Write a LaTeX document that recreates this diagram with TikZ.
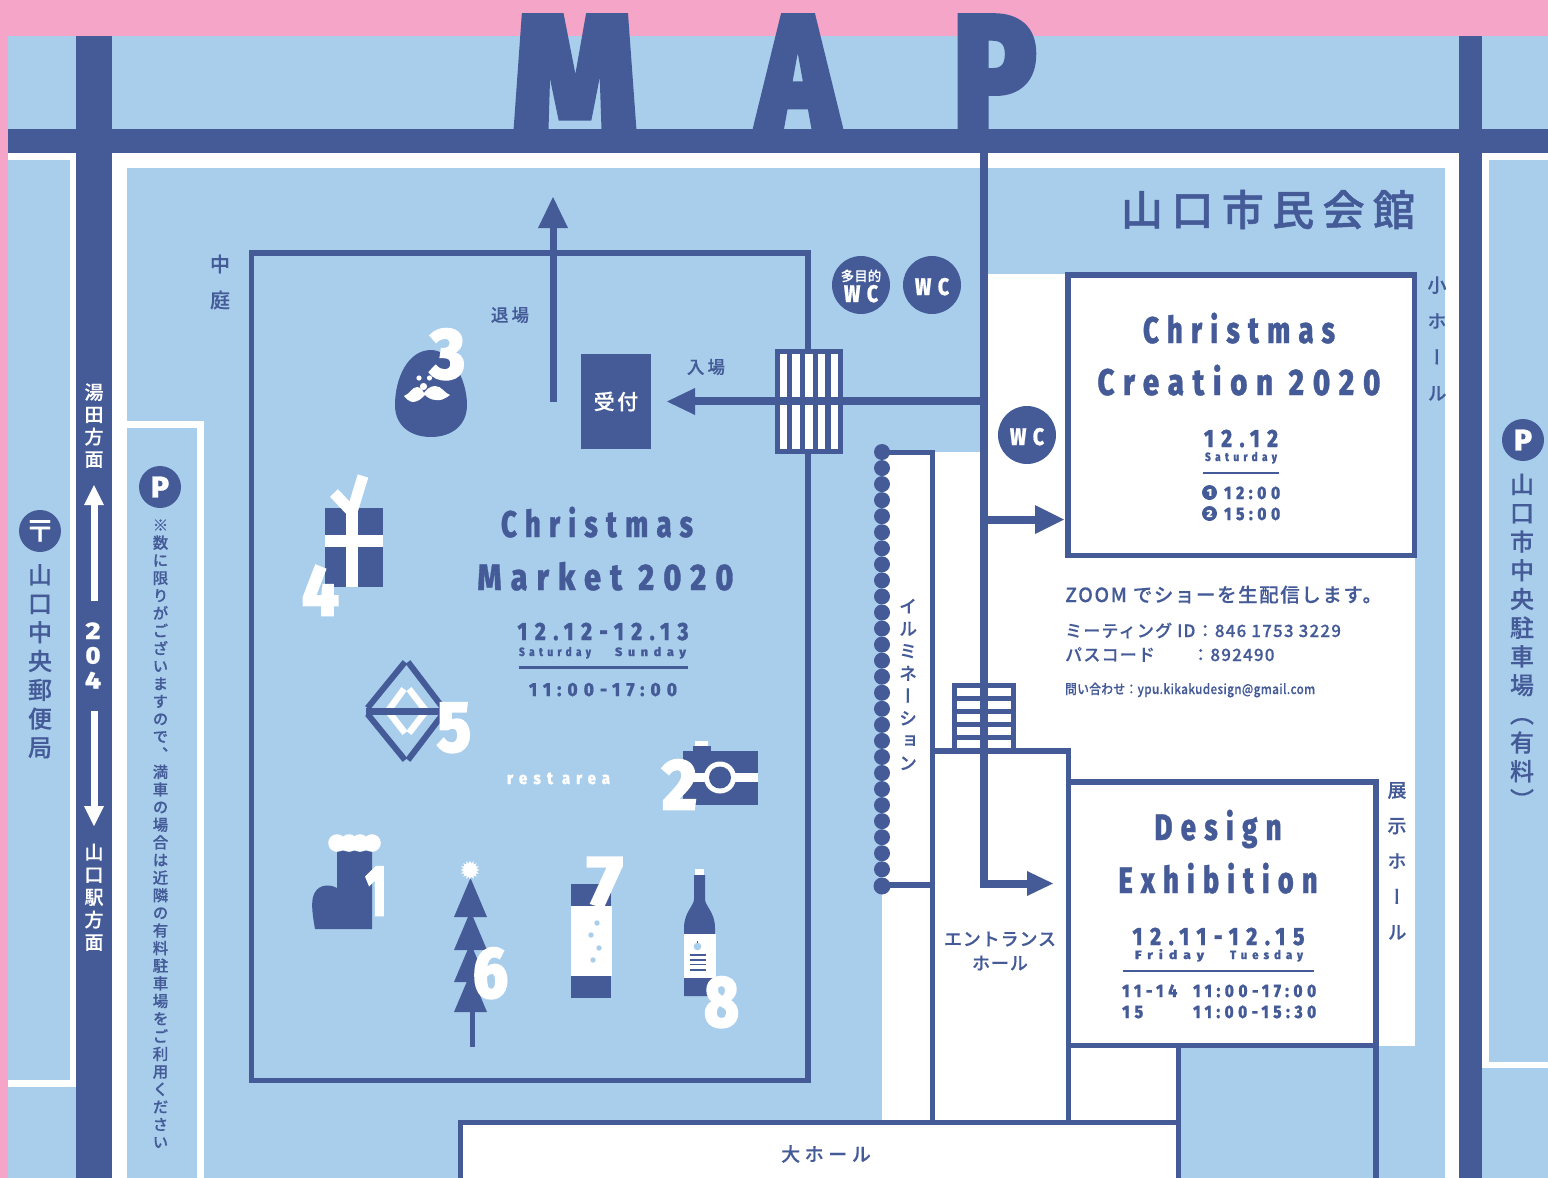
\documentclass[tikz,border=0pt]{standalone}
\usepackage{fontspec}
\usepackage{graphicx}
\usetikzlibrary{shapes.geometric}
\newfontfamily\hv{Fira Sans ExtraBold}
\newfontfamily\jp[FakeBold=0.3]{Noto Sans CJK JP Medium}
\newfontfamily\jpv[RawFeature=+vert,FakeBold=0.3]{Noto Sans CJK JP Medium}
\definecolor{dk}{HTML}{445B97}
\definecolor{lb}{HTML}{A9CEEC}
\definecolor{pk}{HTML}{F4A5C8}
\makeatletter
\newcommand\vtxt[3]{\vbox{\jpv\fontsize{#1}{#1}\selectfont\baselineskip=#2pt\lineskiplimit=-100pt\lineskip=0pt\@tfor\vtc:=#3\do{\hbox to 1em{\hss\vtc\hss\vrule height .88em depth .12em width 0pt}}}}
\makeatother
\newcommand\fw[4]{\resizebox{#1pt}{\height}{\hv\fontsize{#2}{#2}\selectfont\addfontfeature{LetterSpace=#3,FakeBold=1}#4}}
\newcommand\jt[3]{{\jp\fontsize{#1}{#1}\selectfont\addfontfeature{LetterSpace=#2}#3}}
\newcommand\nm[2]{\resizebox{#1pt}{\height}{\hv\fontsize{72}{72}\selectfont\addfontfeature{FakeBold=2.5}#2}}
\tikzset{
 t/.style={inner sep=0pt,anchor=base,text=dk},
 tl/.style={inner sep=0pt,anchor=base west,text=dk},
 c/.style={inner sep=0pt,anchor=center,text=dk},
 w/.style={text=white},
 dot/.style={circle,fill=dk,inner sep=0pt,text=white,minimum size=#1},
 ln/.style={draw=dk,line width=5.5pt},
}
\newcommand\rc[5]{\fill[#1] (#2,#3) rectangle (#4,#5);}
\begin{document}
\begin{tikzpicture}[x=1pt,y=-1pt]
\useasboundingbox (0,0) rectangle (1548,1178);
% grounds
\rc{lb}{0}{0}{1548}{1178}
\rc{pk}{0}{0}{1548}{36}
\rc{pk}{0}{0}{8}{1178}
% white outlines
\draw[white,line width=6.5pt] (8,156.5) -- (73,156.5) -- (73,1083.5) -- (8,1083.5);
\draw[white,line width=6.5pt] (1548,156.5) -- (1485.5,156.5) -- (1485.5,1065) -- (1548,1065);
\rc{white}{112}{153}{1459}{1178}
\rc{lb}{127}{168}{1445}{1178}
\rc{white}{127}{421}{204}{1178}
\rc{lb}{127}{428}{197}{1178}
% white rooms
\rc{white}{988}{274}{1415}{1046}
\rc{white}{882}{452}{988}{1120}
\rc{white}{1066}{1046}{1178}{1120}
% title
\node[t,text=dk] (map) at (774.5,129) {\hv\fontsize{162}{162}\selectfont\addfontfeature{FakeBold=4}\resizebox{124pt}{\height}{M}\kern121pt\resizebox{80pt}{\height}{A}\kern115pt\resizebox{83pt}{\height}{P}};
% roads
\rc{dk}{76}{36}{112}{1178}
\rc{dk}{1459}{36}{1482}{1178}
\rc{dk}{8}{129}{1548}{153}
% building lines
\draw[ln] (882,452.5) -- (932.5,452.5) -- (932.5,1122);
\draw[ln] (882,885) -- (932.5,885);
\draw[ln,fill=white] (932.5,751) -- (1068.5,751) -- (1068.5,1122.5) -- (932.5,1122.5) -- cycle;
\draw[ln,fill=white] (1068,275) rectangle (1414.5,555.5);
\draw[ln,fill=white] (1068.5,782) rectangle (1376,1045.5);
\draw[ln] (1068.5,1045.5) -- (1068.5,1122.5);
\draw[ln] (1178.5,1045.5) -- (1178.5,1178);
\draw[ln] (1376,1045.5) -- (1376,1178);
\fill[white] (460.5,1178) -- (460.5,1122.5) -- (1178.5,1122.5) -- (1178.5,1178) -- cycle;
\draw[ln] (460.5,1178) -- (460.5,1122.5) -- (1178.5,1122.5) -- (1178.5,1178);
% market frame
\draw[ln] (251.5,253) rectangle (808,1080.5);
% grids
\rc{dk}{775}{349}{843}{454}
\foreach \i in {0,...,4} {
 \fill[white] ({779.6+12.75*\i},354) rectangle ({787+12.75*\i},449);
}
\rc{dk}{952}{683}{1016}{750}
\foreach \i in {0,...,4} {
 \fill[white] (957,{688+13*\i}) rectangle (1011,{695.8+13*\i});
}
% main corridor
\draw[dk,line width=8pt] (984,153) -- (984,884) -- (1030,884);
\fill[dk] (1027,871) -- (1053,883.5) -- (1027,896) -- cycle;
\draw[dk,line width=8pt] (984,401) -- (692,401);
\fill[dk] (695,388) -- (667,401.5) -- (695,415) -- cycle;
\draw[dk,line width=8pt] (984,520) -- (1038,520);
\fill[dk] (1035,505) -- (1064,519.5) -- (1035,534) -- cycle;
\draw[dk,line width=7pt] (553,402) -- (553,226);
\fill[dk] (538,228) -- (553,197) -- (568,228) -- cycle;
% dots
\foreach \i in {0,...,26} { \fill[dk] (882,{452+16.05*\i}) circle (8); }
\fill[dk] (882,886) circle (8.5);
% road arrows
\draw[white,line width=7pt] (94,601) -- (94,503);
\fill[white] (84,505) -- (94,485) -- (104,505) -- cycle;
\draw[white,line width=7pt] (94,711) -- (94,808);
\fill[white] (84,806) -- (94,826) -- (104,806) -- cycle;
% road labels
\node[c,w] (yuda) at (94,425.5) {\vtxt{19}{22.3}{湯田方面}};
\node[t,w] (r2) at (93,639) {\fw{15}{24}{0}{2}};
\node[t,w] (r0) at (93,663.5) {\fw{15}{24}{0}{0}};
\node[t,w] (r4) at (93,688.5) {\fw{16}{24}{0}{4}};
\node[c,w] (yama) at (94,897) {\vtxt{19}{22.5}{山口駅方面}};
\node[c] (post) at (40,661) {\vtxt{24}{28.8}{山口中央郵便局}};
\node[dot=42pt] (postc) at (40,531) {\jt{30}{0}{〒}};
\node[dot=42pt] (p1) at (160,487) {\fontsize{30}{30}\selectfont\hv\addfontfeature{FakeBold=1}P};
\node[dot=42pt] (p2) at (1523,440) {\fontsize{30}{30}\selectfont\hv\addfontfeature{FakeBold=1}P};
\node[c] (note) at (160.5,833.5) {\vtxt{15.5}{17.63}{※数に限りがございますので、満車の場合は近隣の有料駐車場をご利用ください}};
\node[c] (park) at (1522,642) {\vtxt{24}{28.7}{山口市中央駐車場（有料）}};
% room labels
\node[c] (naka) at (220,282) {\vtxt{20}{36}{中庭}};
\node[c] (exit) at (510,315) {\jt{17.5}{18}{退場}};
\node[c] (ent) at (706,367) {\jt{17.5}{18}{入場}};
\node[fill=dk,minimum width=70pt,minimum height=95pt,inner sep=0pt,text=white] (uke) at (616,401.5) {\raisebox{1.5pt}{\jt{21}{12}{受付}}};
\node[c] (kaikan) at (1268,209.5) {{\jp\fontsize{42}{42}\selectfont\addfontfeature{LetterSpace=20,FakeBold=1.2}山口市民会館}};
\node[c] (shoh) at (1437,339) {\vtxt{19}{36}{小ホール}};
\node[c] (tenji) at (1397,861) {\vtxt{19}{35.5}{展示ホール}};
\node[c] (illum) at (908,684.5) {\vtxt{18}{22.4}{イルミネーション}};
\node[c] (enth1) at (1000,939) {\jt{18}{5}{エントランス}};
\node[c] (enth2) at (1000,963) {\jt{18}{5}{ホール}};
\node[c] (dai) at (826,1154) {\jt{19}{24}{大ホール}};
% WC
\node[dot=58pt] (wc1) at (861,285) {};
\node[t,w] (wc1a) at (861,281) {\jt{13.5}{0}{多目的}};
\node[t,w] (wc1b) at (861,302) {\fw{34}{24}{35}{WC}};
\node[dot=58pt] (wc2) at (932,285) {};
\node[t,w] (wc2a) at (932,295) {\fw{34}{24}{35}{WC}};
\node[dot=58pt] (wc3) at (1027,435) {};
\node[t,w] (wc3a) at (1027,445) {\fw{34}{24}{35}{WC}};
% Market text
\node[t] (m1) at (597,537) {\fw{192}{37}{30}{Christmas}};
\node[t] (m2) at (605.5,590) {\fw{256}{37}{30}{Market 2020}};
\node[t] (m3) at (603,640) {\fw{171}{25}{36}{12.12-12.13}};
\node[t] (m4) at (602.5,656) {\fw{72}{12}{45}{Saturday}\kern24pt\fw{71}{12}{45}{Sunday}};
\draw[dk,line width=2.5pt] (519,667.5) -- (688,667.5);
\node[t] (m5) at (603,696) {\fw{148}{19}{36}{11:00-17:00}};
\node[t,w] (rest) at (558.5,784) {\fw{46}{17}{40}{rest}\kern9pt\fw{48}{17}{40}{area}};
% Small hall text
\node[t] (s1) at (1239,343) {\fw{192}{37}{30}{Christmas}};
\node[t] (s2) at (1239,395) {\fw{283}{37}{30}{Creation 2020}};
\node[t] (s3) at (1241,447) {\fw{74}{25}{36}{12.12}};
\node[t] (s4) at (1241,461) {\fw{72}{12}{45}{Saturday}};
\draw[dk,line width=2.5pt] (1203,473) -- (1279,473);
\node[dot=15pt] (c1) at (1209.5,492.5) {\fw{5}{10}{0}{1}};
\node[dot=15pt] (c2) at (1209.5,513.5) {\fw{6}{10}{0}{2}};
\node[tl] (s5) at (1224,499) {\fw{56}{18}{30}{12:00}};
\node[tl] (s6) at (1224,520) {\fw{56}{18}{30}{15:00}};
% Zoom text
\node[tl] (z1) at (1065,602) {\jt{19.5}{8}{ZOOM でショーを生配信します。}};
\node[tl] (z2) at (1065,637) {\jt{17}{7}{ミーティング ID：846 1753 3229}};
\node[tl] (z3) at (1065,661) {\jt{17}{7}{パスコード}};
\node[tl] (z3b) at (1192,661) {\jt{17}{7}{：892490}};
\node[tl] (z4) at (1065,694) {\resizebox{250pt}{\height}{\jt{13.5}{3}{問い合わせ：ypu.kikakudesign@gmail.com}}};
% Design text
\node[t] (d1) at (1218,840) {\fw{127}{37}{30}{Design}};
\node[t] (d2) at (1218,893) {\fw{199}{37}{30}{Exhibition}};
\node[t] (d3) at (1218.5,945) {\fw{172}{25}{36}{12.11-12.15}};
\node[t] (d4) at (1219,959) {\fw{69}{12}{45}{Friday}\kern26pt\fw{73}{12}{45}{Tuesday}};
\draw[dk,line width=2.5pt] (1123,971) -- (1314,971);
\node[tl] (d5) at (1122,997) {\fw{55}{18}{30}{11-14}};
\node[tl] (d6) at (1193,997) {\fw{123}{18}{30}{11:00-17:00}};
\node[tl] (d7) at (1122,1018) {\fw{21}{18}{30}{15}};
\node[tl] (d8) at (1193,1018) {\fw{123}{18}{30}{11:00-15:30}};
% santa
\fill[dk] (431,350) .. controls (408,350) and (395,378) .. (395,405) .. controls (395,427) and (412,437) .. (431,437) .. controls (452,437) and (467,425) .. (467,405) .. controls (467,378) and (450,350) .. (431,350) -- cycle;
\fill[white] (419,378) circle (2.6) (429.5,378) circle (2.6) (423.5,386.5) circle (3.6);
\fill[white] (404,396) .. controls (410,394) and (412,387) .. (417,387) .. controls (421,387) and (423,391) .. (424,393) .. controls (426,390) and (430,386) .. (435,386) .. controls (442,386) and (444,393) .. (450,395) .. controls (445,399) and (440,401) .. (436,400) .. controls (431,400) and (427,397) .. (425,395) .. controls (422,398) and (418,402) .. (413,402) .. controls (409,402) and (406,398) .. (404,396) -- cycle;
% gift
\rc{dk}{325}{508}{382.5}{587}
\rc{white}{346}{508}{358}{587}
\rc{white}{325}{535}{382.5}{547}
\draw[white,line width=11pt] (334,493) -- (351,511);
\draw[white,line width=11pt] (363,476) -- (352,512);
% diamond
\draw[white,line width=6.5pt] (404,689) -- (388,711) -- (405,733);
\draw[white,line width=6.5pt] (409,689) -- (426,711) -- (409,733);
\draw[dk,line width=6pt] (367.5,708) -- (405,662);
\draw[dk,line width=6pt] (408,662) -- (443,708);
\draw[dk,line width=6pt] (367.5,714) -- (405,760);
\draw[dk,line width=6pt] (408,760) -- (443,714);
\draw[dk,line width=7pt] (366,711) -- (444,711);
% boot
\fill[dk] (337,851) -- (372,851) -- (372,929) -- (315,929) .. controls (313,918) and (311,905) .. (313,897) .. controls (316,885) and (328,883) .. (337,888) -- cycle;
\foreach \x in {337,349,360,372} { \fill[white] (\x,843) circle (8.8); }
% tree
\draw[dk,line width=5pt] (472,1010) -- (472,1047);
\fill[dk] (454,917) -- (470.5,878) -- (487,917) -- cycle;
\fill[dk] (454,950) -- (470.5,911) -- (487,950) -- cycle;
\fill[dk] (454,982) -- (470.5,943) -- (487,982) -- cycle;
\fill[dk] (454,1012) -- (470.5,973) -- (487,1012) -- cycle;
\node[star,star points=16,star point ratio=1.45,fill=white,inner sep=0pt,minimum size=19pt] (burst) at (470,870) {};
% camera
\rc{white}{695}{741}{708}{746}
\rc{dk}{693}{746}{711}{751}
\rc{dk}{683}{751}{757.5}{805}
\rc{white}{690}{773}{757.5}{782}
\fill[white] (720,777.5) circle (16);
\fill[dk] (720,777.5) circle (11);
% glass
\rc{dk}{571}{884}{611}{998}
\rc{white}{571}{906}{611.5}{976}
% bottle
\fill[dk] (694,875) -- (705,875) -- (705,899) .. controls (705,906) and (715,912) .. (715,928) -- (715,996) -- (684,996) -- (684,928) .. controls (684,912) and (694,906) .. (694,899) -- cycle;
\rc{white}{695}{869}{704}{875}
\rc{white}{683.5}{934}{716}{978}
\fill[lb] (697.5,946.5) circle (3.8);
\draw[dk,line width=1pt] (697.5,941) -- (697.5,943);
\foreach \y in {955,960,964.7,970} { \draw[dk,line width=1.5pt] (690,\y) -- (706,\y); }
% numbers
\node[t,w] (n3) at (447.5,378.5) {\nm{35}{3}};
\node[t,w] (n4) at (320.5,615.5) {\nm{37}{4}};
\node[t,w] (n5) at (454,751.5) {\nm{34}{5}};
\node[t,w] (n1) at (376,915.5) {\nm{21}{1}};
\node[t,w] (n6) at (490.5,997.5) {\nm{35}{6}};
\node[t,w] (n2) at (679.5,809.5) {\nm{35}{2}};
\node[t,w] (n7) at (605,906) {\nm{36}{7}};
\node[t,w] (n8) at (721.5,1026.5) {\nm{35}{8}};
\foreach \x/\y in {597/923,591/935,599/948,593/960} { \fill[lb] (\x,\y) circle (2.7); }
\end{tikzpicture}
\end{document}
